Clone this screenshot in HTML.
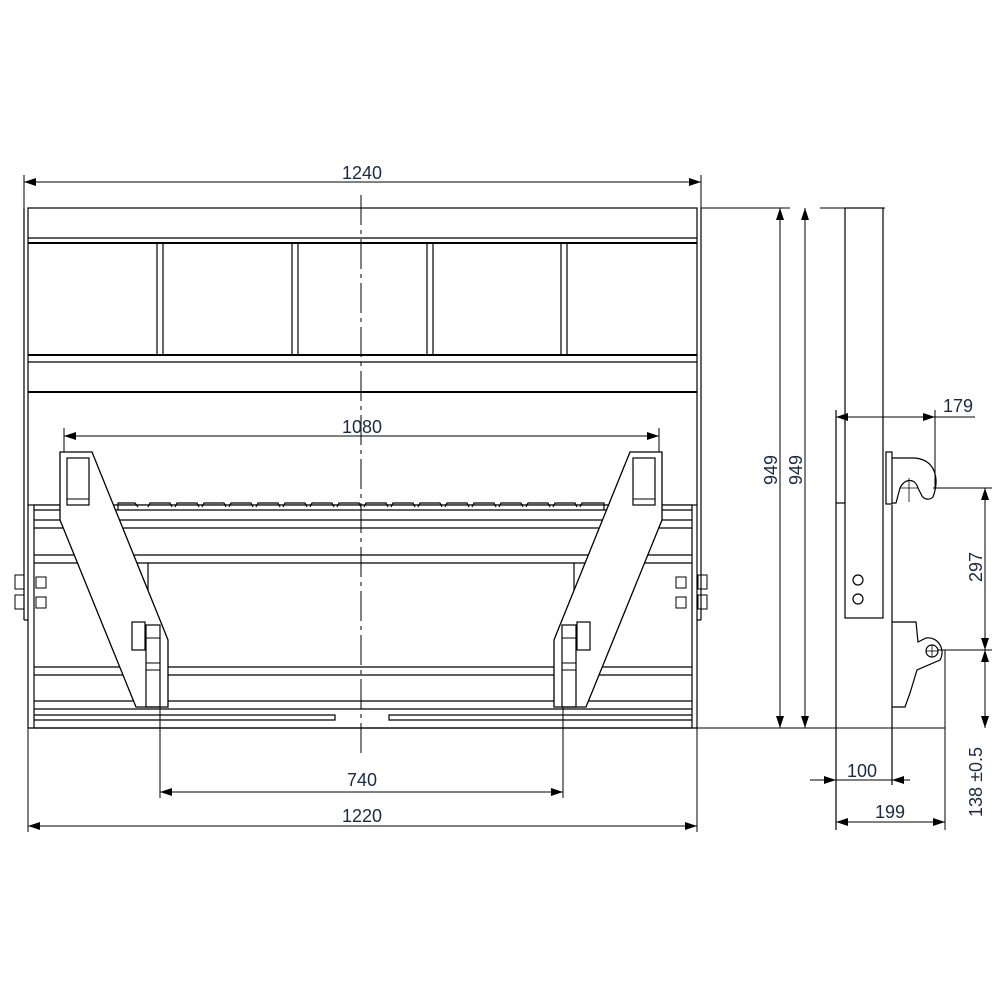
<!DOCTYPE html>
<html><head><style>body{margin:0;background:#fff}svg{display:block}</style></head><body>
<svg width="1000" height="1000" viewBox="0 0 1000 1000" xmlns="http://www.w3.org/2000/svg">
<defs>
<marker id="a" markerWidth="12" markerHeight="8" refX="12" refY="4" orient="auto-start-reverse" markerUnits="userSpaceOnUse"><path d="M0,0 L12,4 L0,8 Z" fill="#000"/></marker>
<g id="arm">
<polygon points="60,452 92,452 162,625 168,640 168,707 136,707 60,520" fill="#fff" stroke="#000" stroke-width="1.3"/>
<rect x="67" y="458" width="22" height="47" fill="none" stroke="#000" stroke-width="1.2"/>
<line x1="67" y1="499" x2="89" y2="499" stroke="#000"/>
<rect x="132" y="622" width="13" height="28" fill="#fff" stroke="#000" stroke-width="1.2"/>
<rect x="146" y="625" width="14" height="82" fill="none" stroke="#000" stroke-width="1.2"/>
<line x1="146" y1="638" x2="160" y2="638" stroke="#000"/>
<line x1="146" y1="663" x2="160" y2="663" stroke="#000"/>
<line x1="146" y1="670" x2="160" y2="670" stroke="#000"/>
<rect x="15" y="575" width="9" height="14" fill="none" stroke="#000"/>
<rect x="15" y="595" width="9" height="14" fill="none" stroke="#000"/>
<rect x="36" y="577" width="10" height="11" fill="none" stroke="#000"/>
<rect x="36" y="597" width="10" height="11" fill="none" stroke="#000"/>
</g>
</defs>
<g fill="none" stroke="#000" stroke-width="1.2">
<!-- top panel -->
<rect x="28" y="208" width="669" height="297"/>
<line x1="24" y1="208" x2="24" y2="620"/>
<line x1="24" y1="620" x2="28" y2="620"/>
<line x1="701" y1="208" x2="701" y2="620"/>
<line x1="697" y1="620" x2="701" y2="620"/>
<line x1="28" y1="238" x2="697" y2="238"/>
<line x1="28" y1="243" x2="697" y2="243" stroke-width="2"/>
<line x1="28" y1="355" x2="697" y2="355" stroke-width="2"/>
<line x1="28" y1="362" x2="697" y2="362"/>
<line x1="28" y1="392" x2="697" y2="392" stroke-width="2"/>
<line x1="157" y1="243" x2="157" y2="355"/><line x1="163" y1="243" x2="163" y2="355"/>
<line x1="292" y1="243" x2="292" y2="355"/><line x1="298" y1="243" x2="298" y2="355"/>
<line x1="427" y1="243" x2="427" y2="355"/><line x1="433" y1="243" x2="433" y2="355"/>
<line x1="561" y1="243" x2="561" y2="355"/><line x1="567" y1="243" x2="567" y2="355"/>
<!-- lower frame -->
<rect x="34" y="505" width="658" height="223" fill="#fff"/>
<line x1="28" y1="505" x2="28" y2="728"/><line x1="697" y1="505" x2="697" y2="728"/>
<line x1="28" y1="728" x2="697" y2="728"/>
<line x1="34" y1="510" x2="692" y2="510"/>
<line x1="34" y1="520" x2="692" y2="520"/>
<line x1="34" y1="528" x2="692" y2="528"/>
<line x1="34" y1="555" x2="692" y2="555"/>
<line x1="34" y1="563" x2="692" y2="563"/>
<line x1="148" y1="563" x2="148" y2="600"/><line x1="574" y1="563" x2="574" y2="600"/>
<line x1="34" y1="667" x2="692" y2="667"/>
<line x1="34" y1="675" x2="692" y2="675"/>
<line x1="34" y1="701" x2="692" y2="701"/>
<line x1="34" y1="709" x2="692" y2="709"/>
<polyline points="34,715 335,715 335,720 34,720"/>
<polyline points="692,715 389,715 389,720 692,720"/>
<path d="M118,510 L118,503 L135,503 L138,507 M148,507 L150,503 L170,503 L172,507 M175,507 L177,503 L197,503 L199,507 M202,507 L204,503 L224,503 L226,507 M229,507 L231,503 L251,503 L253,507 M256,507 L258,503 L278,503 L280,507 M283,507 L285,503 L305,503 L307,507 M310,507 L312,503 L332,503 L334,507 M337,507 L339,503 L359,503 L361,507 M364,507 L366,503 L386,503 L388,507 M391,507 L393,503 L413,503 L415,507 M418,507 L420,503 L440,503 L442,507 M445,507 L447,503 L467,503 L469,507 M472,507 L474,503 L494,503 L496,507 M499,507 L501,503 L521,503 L523,507 M526,507 L528,503 L548,503 L550,507 M553,507 L555,503 L575,503 L577,507 M580,507 L582,503 L604,503 L604,510"/>
</g>
<use href="#arm"/>
<use href="#arm" transform="translate(722,0) scale(-1,1)"/>
<g fill="none" stroke="#000" stroke-width="1">
<line x1="361" y1="195" x2="361" y2="755" stroke-dasharray="30,5,4,5"/>
<!-- ext lines -->
<line x1="24" y1="175" x2="24" y2="208"/><line x1="701" y1="175" x2="701" y2="208"/>
<line x1="28" y1="728" x2="28" y2="832"/><line x1="697" y1="728" x2="697" y2="832"/>
<line x1="160" y1="707" x2="160" y2="798"/><line x1="563" y1="707" x2="563" y2="798"/>
<line x1="64" y1="428" x2="64" y2="452"/><line x1="659" y1="428" x2="659" y2="452"/>
<line x1="24" y1="182" x2="701" y2="182" marker-start="url(#a)" marker-end="url(#a)"/>
<line x1="64" y1="436" x2="659" y2="436" marker-start="url(#a)" marker-end="url(#a)"/>
<line x1="160" y1="792" x2="563" y2="792" marker-start="url(#a)" marker-end="url(#a)"/>
<line x1="28" y1="826" x2="697" y2="826" marker-start="url(#a)" marker-end="url(#a)"/>
<!-- 949 -->
<line x1="701" y1="208" x2="790" y2="208"/><line x1="820" y1="208" x2="885" y2="208"/>
<line x1="697" y1="728" x2="945" y2="728"/>
<line x1="780" y1="208" x2="780" y2="728" marker-start="url(#a)" marker-end="url(#a)"/>
<line x1="805" y1="208" x2="805" y2="728" marker-start="url(#a)" marker-end="url(#a)"/>
</g>
<!-- side view -->
<g fill="none" stroke="#000" stroke-width="1.2">
<rect x="845" y="208" width="38" height="410"/>
<line x1="836" y1="410" x2="836" y2="830"/>
<line x1="836" y1="503" x2="845" y2="503"/>
<line x1="892" y1="505" x2="892" y2="785"/>
<rect x="886" y="452" width="6" height="52"/>
<path d="M892,458 L915,458 C935,460 940,478 933,497 C930,500 925,500 922,496 L918,488 C915,478 905,478 900,488 L896,503 L892,503"/>
<circle cx="858" cy="580" r="5"/><circle cx="858" cy="599" r="5"/>
<path d="M892,622 L916,622 L918,642 L926,638 C938,636 946,650 940,660 L917,670 L910,693 L905,707 L892,707"/>
<circle cx="932" cy="651" r="6"/>
<line x1="932" y1="645" x2="932" y2="657" stroke-width="0.8"/><line x1="926" y1="651" x2="938" y2="651" stroke-width="0.8"/>
<line x1="909" y1="478" x2="909" y2="502" stroke-width="0.8"/><line x1="900" y1="488" x2="918" y2="488" stroke-width="0.8"/>
</g>
<g fill="none" stroke="#000" stroke-width="1">
<line x1="935" y1="410" x2="935" y2="490"/>
<line x1="836" y1="417" x2="935" y2="417" marker-start="url(#a)" marker-end="url(#a)"/>
<line x1="935" y1="417" x2="975" y2="417"/>
<line x1="933" y1="488" x2="992" y2="488"/>
<line x1="938" y1="650" x2="992" y2="650"/>
<line x1="945" y1="650" x2="945" y2="830"/>
<line x1="985" y1="488" x2="985" y2="650" marker-start="url(#a)" marker-end="url(#a)"/>
<line x1="985" y1="650" x2="985" y2="728" marker-start="url(#a)" marker-end="url(#a)"/>
<line x1="810" y1="780" x2="836" y2="780" marker-end="url(#a)"/>
<line x1="836" y1="780" x2="892" y2="780"/>
<line x1="910" y1="780" x2="892" y2="780" marker-end="url(#a)"/>
<line x1="836" y1="822" x2="945" y2="822" marker-start="url(#a)" marker-end="url(#a)"/>
</g>
<g font-family="Liberation Sans, sans-serif" font-size="18" fill="#1a2a44" text-anchor="middle">
<text x="362" y="179">1240</text>
<text x="362" y="433">1080</text>
<text x="362" y="786">740</text>
<text x="362" y="822">1220</text>
<text x="958" y="412">179</text>
<text x="862" y="777">100</text>
<text x="890" y="818">199</text>
<text transform="translate(777,470) rotate(-90)">949</text>
<text transform="translate(802,470) rotate(-90)">949</text>
<text transform="translate(982,567) rotate(-90)">297</text>
<text transform="translate(982,782) rotate(-90)">138 ±0.5</text>
</g>
</svg>
</body></html>
